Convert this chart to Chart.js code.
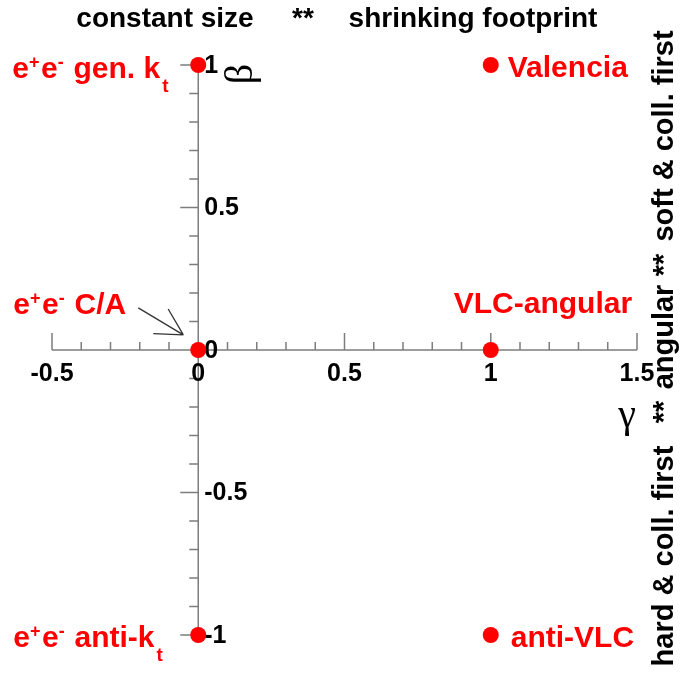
<!DOCTYPE html>
<html>
<head>
<meta charset="utf-8">
<script src="https://cdn.jsdelivr.net/npm/chart.js@4/dist/chart.umd.min.js"></script>
<style>
  html, body { margin: 0; padding: 0; background: #fff; }
  canvas { display: block; }
</style>
</head>
<body>
<canvas id="algoMap" width="681" height="675"></canvas>
<script>
// gamma / beta values of each clustering algorithm
const gammaValues = [0, 1, 0, 1, 0, 1];
const betaValues = [1, 1, 0, 0, -1, -1];
// names as runs of [text, 'sup'|'sub'|undefined]
const algoNames = [
    [['e'], ['+', 'sup'], ['e'], ['-', 'sup'], [' gen. k'], ['t', 'sub']],
    [['Valencia']],
    [['e'], ['+', 'sup'], ['e'], ['-', 'sup'], [' C/A']],
    [['VLC-angular']],
    [['e'], ['+', 'sup'], ['e'], ['-', 'sup'], [' anti-k'], ['t', 'sub']],
    [['anti-VLC']]
];
const xTicks = [-0.5, 0, 0.5, 1, 1.5];
const xTickLabels = ['-0.5', '0', '0.5', '1', '1.5'];
const yTicks = [-1, -0.5, 0, 0.5, 1];
const yTickLabels = ['-1', '-0.5', '0', '0.5', '1'];
// arrow pointing at the C/A point, [gamma, beta] of tail and head
const arrowTail = [-0.205, 0.148];
const arrowHead = [-0.051, 0.053];

// where each name sits relative to its point (pixels)
const labelOffsets = [
    {dx: -186, dy: 13},
    {dx: 17, dy: 12},
    {dx: -185, dy: -36},
    {dx: -37, dy: -37},
    {dx: -185, dy: 12},
    {dx: 20, dy: 12}
];

const RED = 'rgb(255, 0, 0)';
const SANS = '"Liberation Sans", Arial, Helvetica, sans-serif';
const SERIF = '"Liberation Serif", "Times New Roman", serif';

function drawRuns(ctx, runs, x, y) {
    let cx = x;
    for (const [txt, kind] of runs) {
        let size = 30, dy = 0, gap = 0;
        if (kind === 'sup') { size = 18; dy = -10; gap = 1.5; }
        if (kind === 'sub') { size = 19; dy = 14; cx += 2; }
        ctx.font = 'bold ' + size + 'px ' + SANS;
        ctx.fillText(txt, cx, y + dy);
        cx += ctx.measureText(txt).width + gap;
    }
}

const crossAxes = {
    id: 'crossAxes',
    beforeDatasetsDraw(chart) {
        const {ctx, scales: {x, y}} = chart;
        const x0 = x.getPixelForValue(0);
        const y0 = y.getPixelForValue(0);
        ctx.save();
        ctx.strokeStyle = '#7d7d7d';
        ctx.lineWidth = 1.5;
        ctx.beginPath();
        ctx.moveTo(x.left, y0);
        ctx.lineTo(x.right, y0);
        ctx.moveTo(x0, y.top);
        ctx.lineTo(x0, y.bottom);
        // gamma ticks point up, 0.1 minor / 0.5 major
        for (let i = -5; i <= 15; i++) {
            const px = x.getPixelForValue(i / 10);
            const len = i % 5 === 0 ? 17 : 8;
            ctx.moveTo(px, y0);
            ctx.lineTo(px, y0 - len);
        }
        // beta ticks point left
        for (let i = -10; i <= 10; i++) {
            const py = y.getPixelForValue(i / 10);
            const len = i % 5 === 0 ? 18 : 9;
            ctx.moveTo(x0, py);
            ctx.lineTo(x0 - len, py);
        }
        ctx.stroke();

        ctx.fillStyle = '#000';
        ctx.font = 'bold 25px ' + SANS;
        ctx.textAlign = 'center';
        ctx.textBaseline = 'alphabetic';
        xTicks.forEach((v, i) => {
            ctx.fillText(xTickLabels[i], x.getPixelForValue(v), y0 + 31);
        });
        ctx.textAlign = 'left';
        ctx.textBaseline = 'middle';
        yTicks.forEach((v, i) => {
            ctx.fillText(yTickLabels[i], x0 + 6, y.getPixelForValue(v) + 1);
        });

        // axis titles
        ctx.font = '40px ' + SERIF;
        ctx.textBaseline = 'alphabetic';
        ctx.textAlign = 'center';
        ctx.fillText('\u03b3', 627, 427);
        ctx.save();
        ctx.translate(252, 74);
        ctx.rotate(-Math.PI / 2);
        ctx.fillText('\u03b2', 0, 0);
        ctx.restore();

        // arrow towards C/A
        const tx = x.getPixelForValue(arrowTail[0]), ty = y.getPixelForValue(arrowTail[1]);
        const hx = x.getPixelForValue(arrowHead[0]), hy = y.getPixelForValue(arrowHead[1]);
        const ang = Math.atan2(hy - ty, hx - tx);
        ctx.strokeStyle = '#333';
        ctx.lineWidth = 1.3;
        ctx.beginPath();
        ctx.moveTo(tx, ty);
        ctx.lineTo(hx, hy);
        for (const s of [-1, 1]) {
            const a = ang + Math.PI + s * 0.5;
            ctx.moveTo(hx, hy);
            ctx.lineTo(hx + 30 * Math.cos(a), hy + 30 * Math.sin(a));
        }
        ctx.stroke();
        ctx.restore();
    },
    afterDatasetsDraw(chart) {
        const {ctx} = chart;
        const meta = chart.getDatasetMeta(0);
        ctx.save();
        ctx.fillStyle = RED;
        ctx.textAlign = 'left';
        ctx.textBaseline = 'alphabetic';
        meta.data.forEach((pt, i) => {
            const off = labelOffsets[i];
            drawRuns(ctx, algoNames[i], pt.x + off.dx, pt.y + off.dy);
        });

        // header and side captions
        ctx.fillStyle = '#000';
        ctx.font = 'bold 28px ' + SANS;
        ctx.textAlign = 'center';
        ctx.fillText('constant size', 165, 27);
        ctx.fillText('**', 303, 27);
        ctx.fillText('shrinking footprint', 473, 27);

        ctx.font = 'bold 29px ' + SANS;
        const side = [
            ['hard & coll. first', 556],
            ['**', 412],
            ['angular', 337],
            ['**', 265],
            ['soft & coll. first', 136]
        ];
        for (const [txt, cy] of side) {
            ctx.save();
            ctx.translate(673, cy);
            ctx.rotate(-Math.PI / 2);
            ctx.fillText(txt, 0, 0);
            ctx.restore();
        }
        ctx.restore();
    }
};

const ctx = document.getElementById('algoMap').getContext('2d');
new Chart(ctx, {
    type: 'scatter',
    data: {
        datasets: [{
            label: 'algorithms',
            data: gammaValues.map((g, i) => ({x: g, y: betaValues[i]})),
            backgroundColor: RED,
            borderWidth: 0,
            pointRadius: 8,
            clip: false
        }]
    },
    options: {
        responsive: false,
        animation: false,
        devicePixelRatio: 1,
        layout: {
            padding: {left: 52, right: 44, top: 65, bottom: 40}
        },
        scales: {
            x: {type: 'linear', min: -0.5, max: 1.5, display: false},
            y: {type: 'linear', min: -1, max: 1, display: false}
        },
        plugins: {
            legend: {display: false},
            tooltip: {enabled: false}
        }
    },
    plugins: [crossAxes]
});
</script>
</body>
</html>
